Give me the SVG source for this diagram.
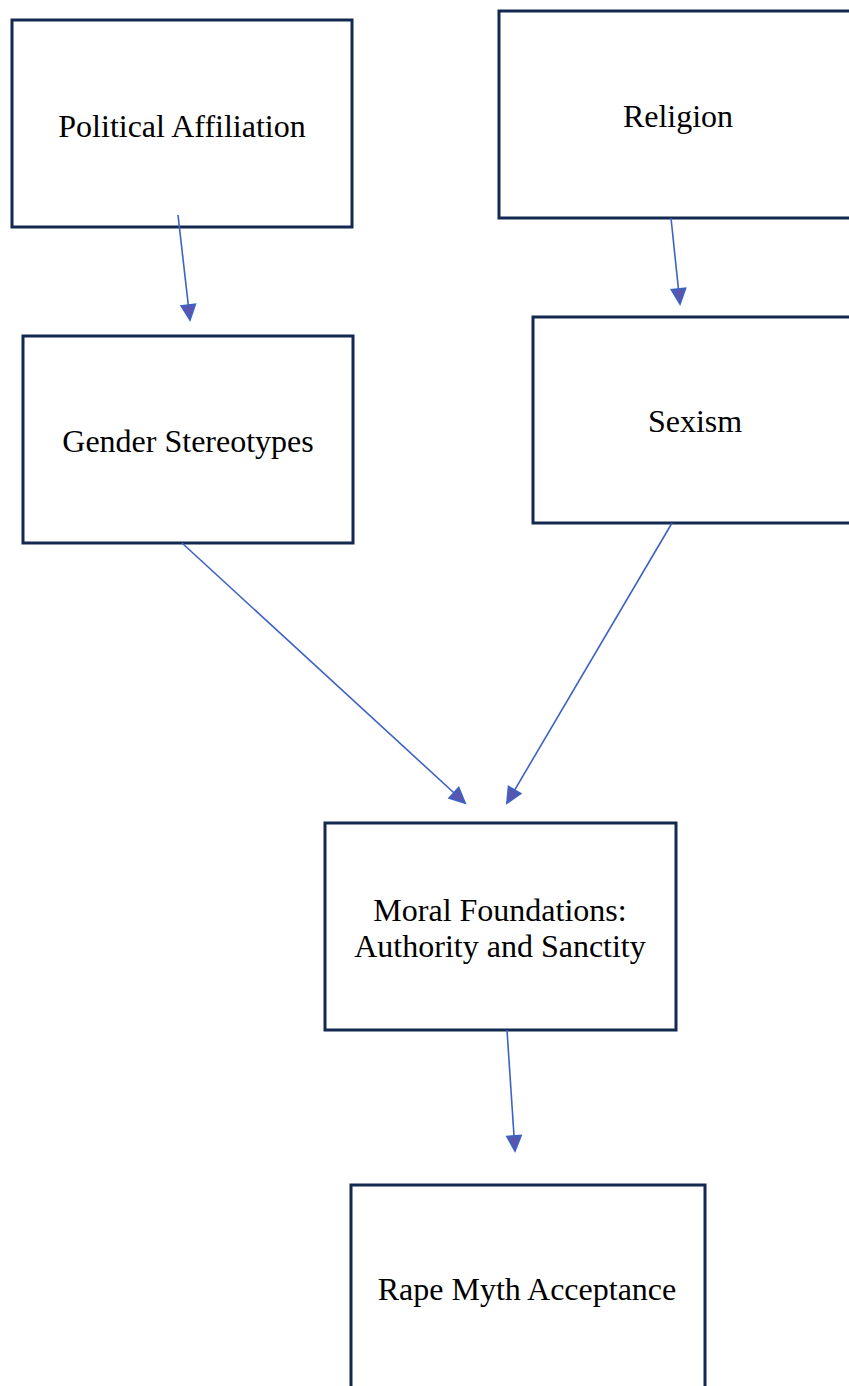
<svg xmlns="http://www.w3.org/2000/svg" width="849" height="1386" viewBox="0 0 849 1386">
<style>
.box{fill:#fff;stroke:#13294f;stroke-width:3}
.lbl{font-family:"Liberation Serif","Times New Roman",serif;font-size:32px;fill:#000;text-anchor:middle}
.conn{stroke:#3d63c2;stroke-width:1.6;fill:none;marker-end:url(#ah)}
</style>
<defs>
<marker id="ah" markerUnits="userSpaceOnUse" markerWidth="20" markerHeight="20" viewBox="0 0 20 20" refX="17" refY="10" orient="auto">
<path d="M2,3 L17,10 L2,17 Z" fill="#5a56b0" stroke="#3d63c2" stroke-width="1.8" stroke-linejoin="miter"/>
</marker>
</defs>
<rect width="849" height="1386" fill="#fff"/>
<g id="political"><rect class="box" x="12" y="20" width="340" height="207"/><text class="lbl" x="182" y="137">Political Affiliation</text></g>
<g id="religion"><rect class="box" x="499" y="11" width="360" height="207"/><text class="lbl" x="678" y="127">Religion</text></g>
<g id="gender"><rect class="box" x="23" y="336" width="330" height="207"/><text class="lbl" x="188" y="452">Gender Stereotypes</text></g>
<g id="sexism"><rect class="box" x="533" y="317" width="330" height="206"/><text class="lbl" x="695" y="432">Sexism</text></g>
<g id="moral"><rect class="box" x="325" y="823" width="351" height="207"/><text class="lbl" x="500" y="921">Moral Foundations:</text><text class="lbl" x="500" y="957">Authority and Sanctity</text></g>
<g id="rape"><rect class="box" x="351" y="1185" width="354" height="220"/><text class="lbl" x="527" y="1300">Rape Myth Acceptance</text></g>
<g id="connectors">
<line class="conn" x1="178" y1="215" x2="190" y2="320"/>
<line class="conn" x1="671" y1="218" x2="680" y2="304"/>
<line class="conn" x1="182" y1="543" x2="465" y2="803"/>
<line class="conn" x1="672" y1="523" x2="507" y2="803"/>
<line class="conn" x1="507" y1="1030" x2="515" y2="1151"/>
</g>
</svg>
